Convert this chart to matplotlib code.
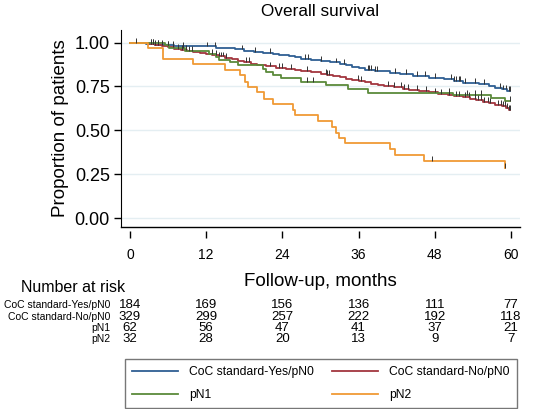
import numpy as np
import matplotlib
matplotlib.use("Agg")
import matplotlib.pyplot as plt
from matplotlib.lines import Line2D
from matplotlib.transforms import blended_transform_factory

plt.rcParams['font.family'] = ['Liberation Sans', 'DejaVu Sans']

# ------------------ DATA -----------------------------------------
groups = ['CoC standard-Yes/pN0', 'CoC standard-No/pN0', 'pN1', 'pN2']
colors = ['#2f5f93', '#a3363f', '#5b8a3a', '#f09a35']

# event times (months) and survival after each step
blue_t = [2.5, 4.0, 5.5, 7.0, 13.5, 15.0, 16.5, 18.0, 19.5, 21.0, 22.5, 23.5, 25.0, 26.0,
          27.0, 28.5, 30.0, 31.5, 33.0, 34.0, 35.0, 36.0, 37.0, 38.5, 41.0, 42.5, 44.5,
          47.0, 49.5, 51.0, 52.5, 55.0, 56.5, 57.5, 58.5, 59.3]
blue_s = [0.995, 0.989, 0.984, 0.978, 0.972, 0.967, 0.961, 0.955, 0.949, 0.943, 0.936, 0.930,
          0.923, 0.916, 0.909, 0.902, 0.895, 0.887, 0.879, 0.871, 0.862, 0.853, 0.844, 0.836,
          0.827, 0.819, 0.810, 0.801, 0.791, 0.781, 0.772, 0.762, 0.752, 0.742, 0.733, 0.724]

red_t = [1.5, 3.0, 4.0, 5.0, 6.0, 7.0, 8.0, 9.0, 10.0, 11.0, 12.0, 13.0, 14.0, 15.0, 16.0,
         17.0, 18.0, 19.0, 20.0, 21.5, 23.0, 24.5, 26.0, 27.0, 28.5, 30.0, 31.0, 32.0, 33.0,
         34.0, 35.0, 36.0, 37.0, 38.0, 39.0, 40.0, 41.5, 43.0, 44.0, 45.5, 47.0, 48.5, 50.0,
         51.0, 52.5, 53.5, 54.5, 55.5, 56.5, 57.5, 58.5, 59.2, 59.7]
red_s = [0.997, 0.991, 0.985, 0.979, 0.973, 0.966, 0.960, 0.954, 0.948, 0.941, 0.935, 0.928,
         0.921, 0.914, 0.906, 0.898, 0.890, 0.880, 0.872, 0.864, 0.857, 0.851, 0.845, 0.838,
         0.831, 0.824, 0.817, 0.810, 0.802, 0.795, 0.788, 0.781, 0.774, 0.767, 0.760, 0.753,
         0.745, 0.737, 0.730, 0.723, 0.716, 0.709, 0.702, 0.695, 0.688, 0.680, 0.671, 0.663,
         0.655, 0.646, 0.637, 0.626, 0.615]

green_t = [5.5, 6.2, 8.7, 12.5, 13.5, 14.0, 15.8, 17.0, 21.0, 21.4, 22.5, 23.8, 27.0, 30.8,
           34.3, 37.4, 50.8, 56.8, 59.0]
green_s = [0.984, 0.968, 0.952, 0.935, 0.919, 0.903, 0.887, 0.870, 0.852, 0.834, 0.815,
           0.796, 0.776, 0.756, 0.734, 0.712, 0.700, 0.687, 0.666]

orange_t = [2.9, 5.2, 10.0, 15.0, 17.4, 18.1, 18.6, 20.0, 21.1, 22.6, 25.7, 26.0, 29.6, 31.8,
            32.5, 32.9, 33.9, 40.9, 41.7, 46.3, 59.1]
orange_s = [0.970, 0.907, 0.877, 0.844, 0.814, 0.776, 0.748, 0.719, 0.681, 0.649, 0.618,
            0.586, 0.554, 0.520, 0.486, 0.459, 0.425, 0.391, 0.358, 0.324, 0.285]

end_t = [59.9, 59.9, 59.8, 59.1]

# censoring times (months)
blue_c = [1.0, 3.3, 3.7, 4.0, 4.5, 5.0, 6.0, 6.8, 8.3, 12.1, 13.4, 17.7, 19.7, 22.0, 27.6,
          28.0, 30.0, 32.5, 33.7, 37.4, 37.6, 38.0, 38.5, 38.9, 41.8, 43.4, 45.2, 46.5, 48.1,
          50.6, 51.0, 51.4, 51.8, 52.0, 52.8, 54.3, 55.7, 58.3, 58.8, 59.2, 59.6, 59.9]
red_c = [3.3, 3.7, 4.5, 6.8, 7.6, 8.2, 8.8, 9.3, 9.7, 12.9, 13.5, 14.0, 14.4, 14.6, 15.2,
         18.2, 18.7, 22.0, 23.5, 24.0, 25.4, 27.8, 30.8, 31.0, 31.4, 35.9, 36.4, 40.7, 41.6,
         42.7, 43.2, 43.7, 45.2, 46.6, 48.1, 49.0, 50.3, 51.3, 51.8, 52.8, 53.3, 54.3, 54.8,
         55.3, 55.7, 56.3, 56.6, 58.0, 58.4, 58.8, 59.1, 59.4, 59.7, 59.9]
green_c = [6.0, 8.3, 27.8, 28.8, 50.3, 53.0, 54.3, 55.3, 59.8]
orange_c = [47.6, 59.1]

risk_times = [0, 12, 24, 36, 48, 60]
at_risk = [[184, 169, 156, 136, 111, 77],
           [329, 299, 257, 222, 192, 118],
           [62, 56, 47, 41, 37, 21],
           [32, 28, 20, 13, 9, 7]]
# -----------------------------------------------------------------

curves = [(blue_t, blue_s, blue_c), (red_t, red_s, red_c),
          (green_t, green_s, green_c), (orange_t, orange_s, orange_c)]


def surv_at(t, s, x):
    idx = np.searchsorted(np.array(t), x, side='right')
    vals = np.concatenate([[1.0], s])
    return vals[idx]


fig = plt.figure(figsize=(5.44, 4.09), dpi=100)
W, H = 544, 409
ax = fig.add_axes([121 / W, 1 - 227 / H, 399 / W, 197 / H])

for (t, s, c), col, end in zip(curves, colors, end_t):
    tt = [0] + list(t) + [end]
    ss = [1.0] + list(s) + [s[-1]]
    ax.step(tt, ss, where='post', color=col, lw=1.3, zorder=3)
    cy = surv_at(t, s, c)
    ax.vlines(c, cy, cy + 0.028, color='#333333', lw=0.7, zorder=4)

ax.set_xlim(-1.4, 61.4)
ax.set_ylim(-0.051, 1.072)
ax.set_yticks([0, 0.25, 0.5, 0.75, 1.0])
ax.set_yticklabels(['0.00', '0.25', '0.50', '0.75', '1.00'], fontsize=13)
ax.set_xticks(risk_times)
ax.set_xticklabels([str(v) for v in risk_times], fontsize=13.5)
ax.grid(axis='y', color='#e4eef2', lw=1)
ax.set_axisbelow(True)
for side in ['top', 'right']:
    ax.spines[side].set_visible(False)
ax.spines['bottom'].set_position(('outward', 3))
ax.spines['bottom'].set_color('none')
ax.axhline(-0.051, color='black', lw=1, clip_on=False)
ax.tick_params(axis='y', length=5, width=1, pad=3)
ax.tick_params(axis='x', length=5, width=1, pad=7)
ax.set_ylabel('Proportion of patients', fontsize=13.5, labelpad=4)

fig.text(320 / W, 1 - 12 / H, 'Overall survival', fontsize=12.3, ha='center', va='center')
fig.text(320 / W, 1 - 281 / H, 'Follow-up, months', fontsize=13.5, ha='center', va='center')

# number at risk table
fig.text(73 / W, 1 - 287 / H, 'Number at risk', fontsize=11.5, ha='center', va='center')
trans = blended_transform_factory(ax.transData, fig.transFigure)
row_y = [305, 317, 328, 339]
for name, counts, yy in zip(groups, at_risk, row_y):
    fig.text(110 / W, 1 - yy / H, name, fontsize=7.5, ha='right', va='center')
    for x, n in zip(risk_times, counts):
        ax.text(x, 1 - yy / H, str(n), transform=trans, fontsize=9.5,
                ha='center', va='center', clip_on=False)

# legend: two columns, rows read left to right
order = [0, 2, 1, 3]
handles = [Line2D([0], [0], color=colors[i], lw=1.3) for i in order]
labels = [groups[i] for i in order]
leg = fig.legend(handles, labels, ncol=2, loc='upper left',
                 bbox_to_anchor=(125 / W, 1 - 359 / H),
                 fontsize=8.7, frameon=True, fancybox=False,
                 handlelength=3.8, handletextpad=0.9, borderaxespad=0,
                 labelspacing=0.9, borderpad=0.6, columnspacing=1.5)
leg.get_frame().set_edgecolor('#555555')
leg.get_frame().set_linewidth(1.0)

fig.savefig('out.png', dpi=100)
